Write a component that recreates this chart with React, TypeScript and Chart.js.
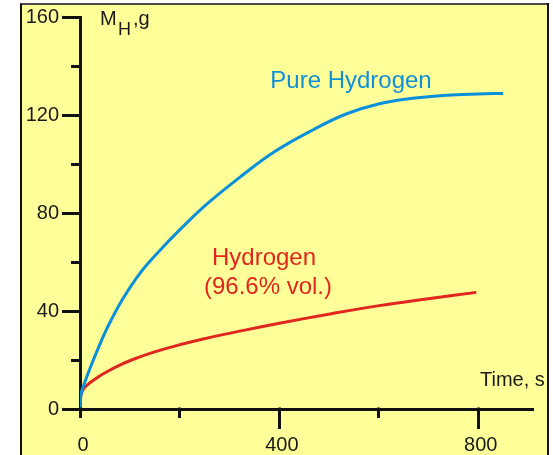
import React, { useEffect, useRef } from "react";
import { Chart, registerables } from "chart.js";

Chart.register(...registerables);

// Pure hydrogen curve (time, s -> mass, g)
const pureTime = [0, 1, 3, 8, 20, 35, 55, 85, 122, 160, 203, 256, 324, 391, 471, 535, 602, 669, 737, 800, 851];
const pureMass = [0, 4, 7, 10, 16.5, 24, 33.2, 44.6, 55.8, 64.6, 73.6, 83.8, 95, 105, 114.2, 120.4, 124.6, 126.8, 128.1, 128.6, 128.8];

// Hydrogen (96.6% vol.) curve
const mixTime = [0, 1, 3, 8, 20, 35, 55, 80, 105, 150, 200, 250, 324, 401, 500, 602, 700, 797];
const mixMass = [0, 4, 6.5, 8.5, 10.7, 12.9, 15.3, 17.9, 20.1, 23.3, 26.2, 28.7, 31.9, 35, 38.7, 42.2, 45, 47.6];

const yLabelTicks = [0, 40, 80, 120, 160];
const yMinorTicks = [20, 60, 100, 140];
const xLabelTicks = [0, 400, 800];
const xLongTicks = [400, 800];
const xShortTicks = [0, 200, 600];

const FONT = "'Liberation Sans', Arial, sans-serif";

const decorPlugin = {
  id: "decor",
  beforeDraw(chart: any) {
    const ctx = chart.ctx;
    ctx.save();
    ctx.fillStyle = "#ffffff";
    ctx.fillRect(0, 0, chart.width, chart.height);
    ctx.fillStyle = "#ffff99";
    ctx.fillRect(21, 4, 527, chart.height - 4);
    ctx.fillStyle = "#4a4a4a";
    ctx.fillRect(20, 3, 529, 2);
    ctx.fillStyle = "#111111";
    ctx.fillRect(20, 4, 2, chart.height - 4);
    ctx.fillRect(547, 3, 2, chart.height - 3);
    ctx.restore();
  },
  afterDraw(chart: any) {
    const ctx = chart.ctx;
    const xs = chart.scales.x;
    const ys = chart.scales.y;
    const left = chart.chartArea.left;
    const bottom = chart.chartArea.bottom;
    ctx.save();
    ctx.strokeStyle = "#111111";
    ctx.lineWidth = 3;
    ctx.lineCap = "butt";
    const seg = (x1: number, y1: number, x2: number, y2: number) => {
      ctx.beginPath();
      ctx.moveTo(x1, y1);
      ctx.lineTo(x2, y2);
      ctx.stroke();
    };
    yLabelTicks.forEach((v) => {
      const y = Math.round(ys.getPixelForValue(v)) + 0.5;
      seg(left - 18, y, left + 1.5, y);
    });
    yMinorTicks.forEach((v) => {
      const y = Math.round(ys.getPixelForValue(v)) + 0.5;
      seg(left - 9, y, left + 1.5, y);
    });
    xLongTicks.forEach((v) => {
      const x = Math.round(xs.getPixelForValue(v)) + 0.5;
      seg(x, bottom - 1.5, x, bottom + 20);
    });
    xShortTicks.forEach((v) => {
      const x = Math.round(xs.getPixelForValue(v)) + 0.5;
      seg(x, bottom - 1.5, x, bottom + 9);
    });

    ctx.textBaseline = "alphabetic";
    ctx.fillStyle = "#1a1a1a";
    ctx.textAlign = "left";
    ctx.font = `20px ${FONT}`;
    ctx.fillText("M", 100, 25);
    ctx.font = `18px ${FONT}`;
    ctx.fillText("H", 118, 35);
    ctx.font = `20px ${FONT}`;
    ctx.fillText(",g", 133, 25);
    ctx.fillText("Time, s", 480, 386);

    ctx.textAlign = "center";
    ctx.font = `24px ${FONT}`;
    ctx.fillStyle = "#1190d8";
    ctx.fillText("Pure Hydrogen", 351, 88);
    ctx.fillStyle = "#e0261e";
    ctx.fillText("Hydrogen", 264, 265);
    ctx.fillText("(96.6% vol.)", 268, 294);
    ctx.restore();
  },
};

export default function App() {
  const ref = useRef<HTMLCanvasElement | null>(null);
  useEffect(() => {
    if (!ref.current) return;
    const chart = new Chart(ref.current, {
      type: "line",
      data: {
        datasets: [
          {
            label: "Pure Hydrogen",
            data: pureTime.map((t, i) => ({ x: t, y: pureMass[i] })),
            borderColor: "#0a8fdc",
            borderWidth: 3,
            pointRadius: 0,
            tension: 0.4,
            fill: false,
          },
          {
            label: "Hydrogen (96.6% vol.)",
            data: mixTime.map((t, i) => ({ x: t, y: mixMass[i] })),
            borderColor: "#e0261e",
            borderWidth: 3,
            pointRadius: 0,
            tension: 0.4,
            fill: false,
          },
        ],
      },
      options: {
        responsive: false,
        animation: false,
        devicePixelRatio: 1,
        layout: { padding: { top: 17, right: 20, left: 0, bottom: 0 } },
        plugins: { legend: { display: false }, tooltip: { enabled: false } },
        scales: {
          x: {
            type: "linear",
            min: 0,
            max: 911,
            grid: { display: false, drawTicks: false },
            border: { display: true, color: "#111111", width: 3 },
            afterBuildTicks: (s: any) => {
              s.ticks = xLabelTicks.map((v) => ({ value: v }));
            },
            afterFit: (s: any) => {
              s.height = 46;
              s.paddingLeft = 0;
              s.paddingRight = 0;
            },
            ticks: {
              padding: 24,
              labelOffset: 3,
              maxRotation: 0,
              autoSkip: false,
              color: "#1a1a1a",
              font: { family: FONT, size: 20 },
              callback: (v: any) => String(v),
            },
          },
          y: {
            type: "linear",
            min: 0,
            max: 160,
            grid: { display: false, drawTicks: false },
            border: { display: true, color: "#111111", width: 3 },
            afterBuildTicks: (s: any) => {
              s.ticks = yLabelTicks.map((v) => ({ value: v }));
            },
            afterFit: (s: any) => {
              s.width = 80;
              s.paddingTop = 0;
              s.paddingBottom = 0;
            },
            ticks: {
              padding: 21,
              autoSkip: false,
              color: "#1a1a1a",
              font: { family: FONT, size: 20 },
              callback: (v: any) => String(v),
            },
          },
        },
      },
      plugins: [decorPlugin],
    } as any);
    return () => chart.destroy();
  }, []);
  return (
    <div style={{ position: "absolute", left: 0, top: 0, width: 553, height: 455 }}>
      <canvas ref={ref} width={553} height={455} />
    </div>
  );
}
